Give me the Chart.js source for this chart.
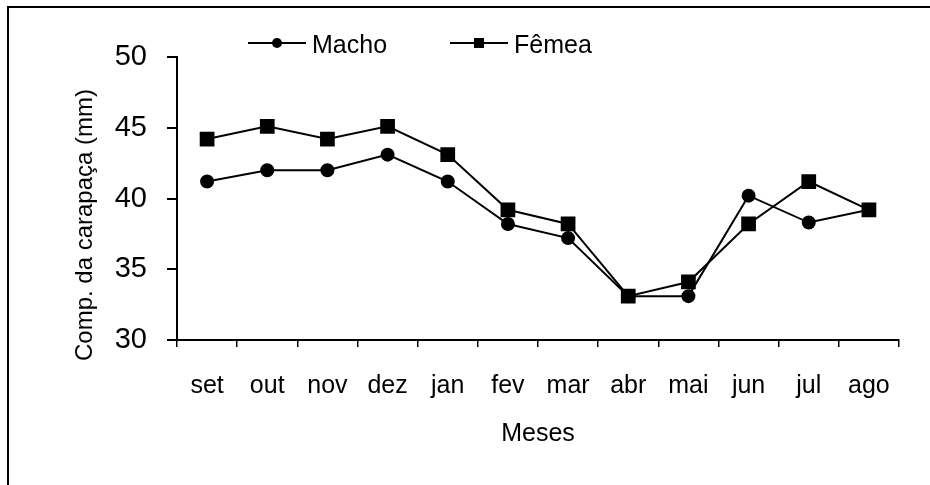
<!DOCTYPE html>
<html>
<head>
<meta charset="utf-8">
<script src="https://cdn.jsdelivr.net/npm/chart.js@4.4.1/dist/chart.umd.min.js"></script>
<style>
  body { margin: 0; background: #fff; }
  #wrap { position: relative; width: 930px; height: 485px; }
  #frame { position: absolute; left: 7px; top: 6px; right: 0; bottom: 0; border-top: 2px solid #000; border-left: 2px solid #000; pointer-events: none; }
</style>
</head>
<body>
<div id="wrap">
  <canvas id="chartzz"></canvas>
  <div id="frame"></div>
</div>
<script>
const months = ['set', 'out', 'nov', 'dez', 'jan', 'fev', 'mar', 'abr', 'mai', 'jun', 'jul', 'ago'];
const macho = [41.2, 42, 42, 43.1, 41.2, 38.2, 37.2, 33.1, 33.1, 40.2, 38.3, 39.2];
const femea = [44.2, 45.1, 44.2, 45.1, 43.1, 39.2, 38.2, 33.1, 34.1, 38.2, 41.2, 39.2];
const seriesNames = ['Macho', 'Fêmea'];
const yTitle = 'Comp. da carapaça (mm)';
const xTitle = 'Meses';

const FONT = "'Liberation Sans', Arial, sans-serif";

// legend drawn like the old spreadsheet one: line with marker in the middle,
// plus the y title, which sits a bit below the middle of the axis
const legendPlugin = {
  id: 'lineLegend',
  afterDraw(chart) {
    const ctx = chart.ctx;
    const spots = [248, 450];
    ctx.save();
    chart.data.datasets.forEach((ds, i) => {
      const x0 = spots[i], x1 = x0 + 58, y = 43;
      ctx.strokeStyle = '#000';
      ctx.lineWidth = 2;
      ctx.beginPath();
      ctx.moveTo(x0, y);
      ctx.lineTo(x1, y);
      ctx.stroke();
      ctx.fillStyle = '#000';
      const cx = (x0 + x1) / 2;
      if (ds.pointStyle === 'circle') {
        ctx.beginPath();
        ctx.arc(cx, y, 5, 0, Math.PI * 2);
        ctx.fill();
      } else {
        ctx.fillRect(cx - 5, y - 5, 10, 10);
      }
      ctx.font = '25px ' + FONT;
      ctx.textBaseline = 'alphabetic';
      ctx.textAlign = 'left';
      ctx.fillText(ds.label, x1 + 6, 53);
    });

    ctx.translate(85, 225);
    ctx.rotate(-Math.PI / 2);
    ctx.font = '24px ' + FONT;
    ctx.textAlign = 'center';
    ctx.textBaseline = 'middle';
    ctx.fillStyle = '#000';
    ctx.fillText(yTitle, 0, 0);
    ctx.restore();
  }
};

const ctx1 = document.getElementById('chartzz');
const chartzz = new Chart(ctx1, {
  type: 'line',
  data: {
    labels: months,
    datasets: [{
      label: seriesNames[0],
      data: macho,
      borderColor: '#000',
      backgroundColor: '#000',
      borderWidth: 2,
      pointStyle: 'circle',
      pointRadius: 6,
      tension: 0
    }, {
      label: seriesNames[1],
      data: femea,
      borderColor: '#000',
      backgroundColor: '#000',
      borderWidth: 2,
      pointStyle: 'rect',
      pointRadius: 9,
      tension: 0
    }]
  },
  options: {
    responsive: true,
    maintainAspectRatio: false,
    animation: false,
    layout: { padding: { top: 57, right: 31, left: 0, bottom: 0 } },
    plugins: {
      legend: { display: false },
      tooltip: { enabled: false }
    },
    scales: {
      x: {
        offset: true,
        grid: { offset: true, drawOnChartArea: false, tickLength: 7, color: '#000', lineWidth: 1.5 },
        border: { color: '#000', width: 2 },
        ticks: { color: '#000', font: { family: FONT, size: 25 }, padding: 24, maxRotation: 0 },
        title: { display: true, text: xTitle, color: '#000', font: { family: FONT, size: 25 }, padding: { top: 0, bottom: 36 } },
        afterFit(s) { s.height = 145; }
      },
      y: {
        min: 30,
        max: 50,
        ticks: { stepSize: 5, color: '#000', font: { family: FONT, size: 29 }, padding: 20 },
        grid: { drawOnChartArea: false, tickLength: 10, color: '#000', lineWidth: 2 },
        border: { color: '#000', width: 2 },
        afterFit(s) { s.width = 177; }
      }
    }
  },
  plugins: [legendPlugin]
});
</script>
</body>
</html>
